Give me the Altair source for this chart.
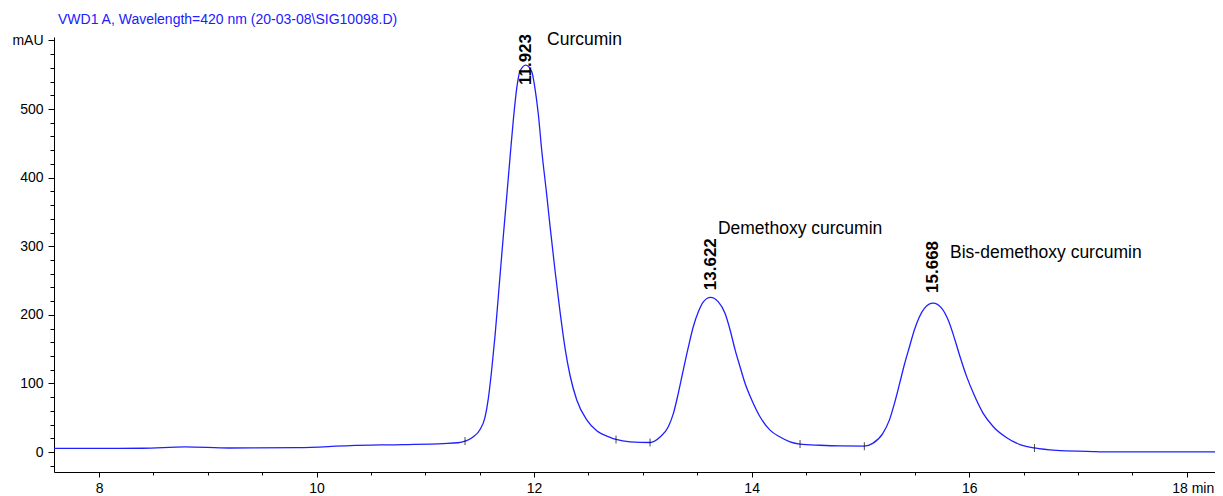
import altair as alt
import pandas as pd

# --- data ---
time_min = [7.586, 8.0, 8.40, 8.79, 9.20, 9.83, 10.31, 10.80, 11.163, 11.301, 11.365, 11.439,
            11.503, 11.549, 11.579, 11.610, 11.641, 11.687, 11.717, 11.748, 11.779, 11.809,
            11.840, 11.870, 11.923, 11.977, 12.008, 12.039, 12.070, 12.116, 12.146, 12.192,
            12.238, 12.284, 12.330, 12.392, 12.484, 12.576, 12.698, 12.753, 12.882, 13.066,
            13.158, 13.234, 13.280, 13.326, 13.372, 13.418, 13.464, 13.510, 13.556, 13.622,
            13.694, 13.756, 13.802, 13.848, 13.894, 13.940, 14.001, 14.077, 14.169, 14.261,
            14.353, 14.445, 14.629, 14.813, 15.036, 15.113, 15.205, 15.267, 15.313, 15.359,
            15.405, 15.451, 15.496, 15.542, 15.588, 15.668, 15.748, 15.808, 15.870, 15.916,
            15.977, 16.038, 16.130, 16.222, 16.345, 16.467, 16.60, 16.80, 17.14, 17.20, 18.26]
signal_mau = [5.4, 5.4, 5.6, 7.5, 6.0, 6.5, 9.5, 11.0, 12.5, 13.6, 16, 22,
              33, 51, 78, 120, 170, 258, 315, 372, 430, 484,
              530, 555, 564, 555, 530, 492, 440, 375, 330, 265,
              205, 152, 112, 76, 47, 31, 21.5, 18.5, 15, 14,
              22, 37, 56, 86, 120, 153, 183, 204.5, 219, 225.5,
              219, 202, 178, 149, 124, 100, 76, 51.5, 32, 22,
              15, 11.7, 10, 9, 8.7, 12.7, 27, 47, 71, 99,
              128, 153.5, 178, 197, 209.5, 217, 209.5, 192, 163, 139,
              110, 86, 56, 37, 21, 11, 6, 2.5, 0.8, 0.4, 0.3]

peak_rt = [11.923, 13.622, 15.668]
peak_rt_text = ["11.923", "13.622", "15.668"]
peak_label_mau = [535, 236, 232]

compound_names = ["Curcumin", "Demethoxy curcumin", "Bis-demethoxy curcumin"]
name_time = [12.119, 13.690, 15.824]
name_mau = [601, 325, 290]

event_time = [11.365, 12.753, 13.066, 14.445, 15.036, 16.60]
event_mau = [16, 18.5, 14, 11.7, 8.7, 6]

x_ticks = [8, 8.5, 9, 9.5, 10, 10.5, 11, 11.5, 12, 12.5, 13, 13.5, 14, 14.5, 15, 15.5,
           16, 16.5, 17, 17.5, 18]
y_ticks = [-20, 0, 20, 40, 60, 80, 100, 120, 140, 160, 180, 200, 220, 240, 260, 280, 300,
           320, 340, 360, 380, 400, 420, 440, 460, 480, 500, 520, 540, 560, 580, 600]

x_domain = [7.586, 18.26]
y_domain = [-29, 605]

FONT = "Liberation Sans"
BLUE = "#2020ff"

sig = pd.DataFrame({"t": time_min, "v": signal_mau})
peaks = pd.DataFrame({"t": peak_rt, "lab": peak_rt_text, "v": peak_label_mau})
names = pd.DataFrame({"t": name_time, "v": name_mau, "name": compound_names})
events = pd.DataFrame({"t": event_time, "v": event_mau})

x_axis = alt.Axis(
    values=x_ticks, title=None, grid=False,
    labelExpr="datum.value % 2 == 0 ? (datum.value == 18 ? '18 min' : format(datum.value, 'd')) : ''",
    tickSize={"condition": {"test": "datum.value % 2 == 0", "value": 5}, "value": 3},
    labelAlign={"condition": {"test": "datum.value == 18", "value": "right"}, "value": "center"},
    labelOffset={"condition": {"test": "datum.value == 18", "value": 27}, "value": 0},
    labelOverlap=False, labelFlush=False, labelPadding=4,
)
y_axis = alt.Axis(
    values=y_ticks, title=None, grid=False,
    labelExpr="datum.value % 100 == 0 ? (datum.value == 600 ? 'mAU' : format(datum.value, 'd')) : ''",
    tickSize={"condition": {"test": "datum.value % 100 == 0", "value": 6}, "value": 4},
    labelOverlap=False, labelFlush=False, labelPadding=5,
)

xs = alt.Scale(domain=x_domain, nice=False, zero=False)
ys = alt.Scale(domain=y_domain, nice=False, zero=False)

X = alt.X("t:Q", scale=xs, axis=x_axis)
Y = alt.Y("v:Q", scale=ys, axis=y_axis)

line = alt.Chart(sig).mark_line(color=BLUE, strokeWidth=1.3, interpolate="monotone", clip=True).encode(
    x=X, y=Y,
)

ev = alt.Chart(events).mark_tick(color="black", orient="vertical", size=8, thickness=1).encode(
    x=X, y=Y,
)

rt_text = alt.Chart(peaks).mark_text(
    angle=270, align="left", baseline="middle", font=FONT, fontSize=17,
    fontWeight="bold", color="black"
).encode(
    x=X, y=Y,
    text="lab:N",
)

name_text = alt.Chart(names).mark_text(
    align="left", baseline="middle", font=FONT, fontSize=17.5, color="black"
).encode(
    x=X, y=Y,
    text="name:N",
)

chart = alt.layer(line, ev, rt_text, name_text).properties(
    width=1161, height=435,
    autosize=alt.AutoSizeParams(type="none"),
    padding={"left": 46, "top": 29, "right": 0, "bottom": 24},
    title=alt.TitleParams(
        text="VWD1 A, Wavelength=420 nm (20-03-08\\SIG10098.D)",
        anchor="start", frame="group", fontSize=14, font=FONT, color=BLUE,
        fontWeight="normal", dx=4, offset=4,
    ),
).configure_view(stroke=None).configure_axis(
    domainColor="black", tickColor="black", labelColor="black",
    labelFont=FONT, labelFontSize=14, domainWidth=1, tickWidth=1,
)

chart.save("out.html", embed_options={"renderer": "svg", "actions": False})
